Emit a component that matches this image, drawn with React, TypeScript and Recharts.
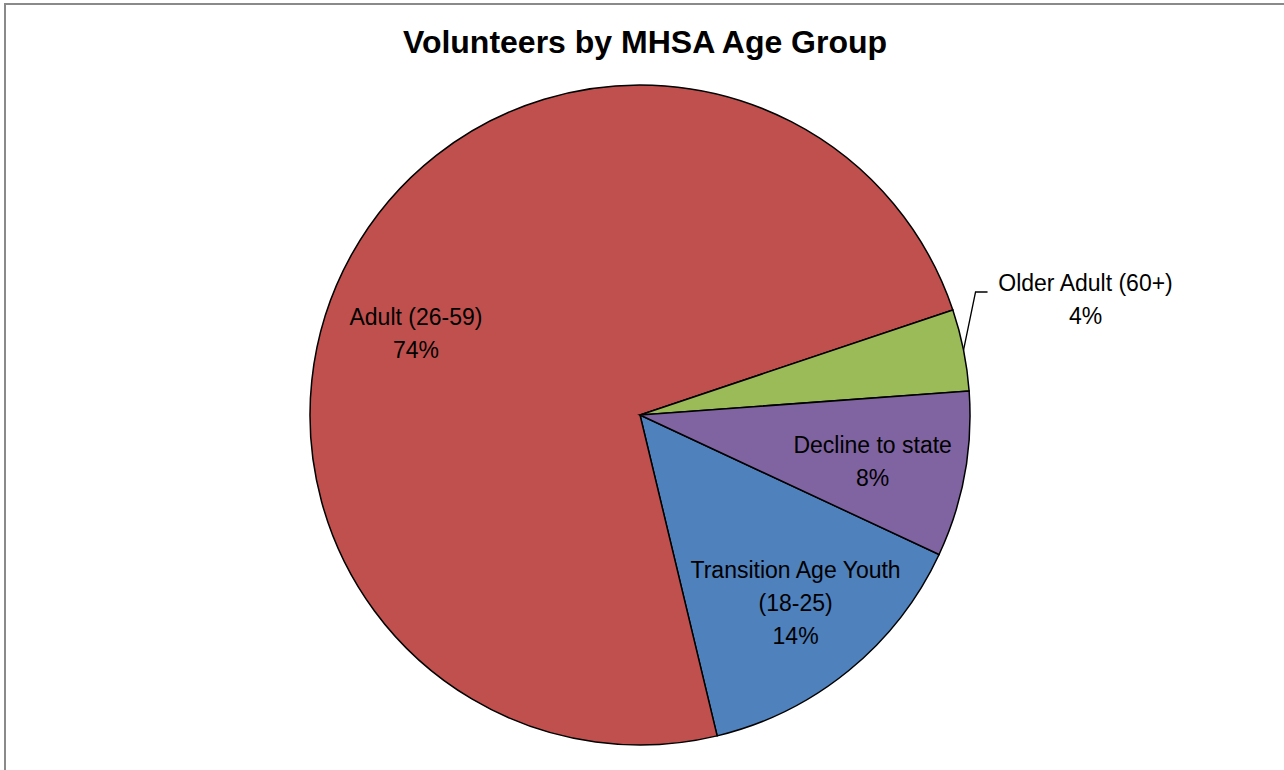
import { PieChart, Pie, Cell } from 'recharts';

const CATEGORIAS = ['Transition Age Youth (18-25)', 'Adult (26-59)', 'Older Adult (60+)', 'Decline to state'];
const VALORES = [14.3, 73.6, 4.0, 8.1];
const COLORES = ['#4F81BD', '#C0504D', '#9BBB59', '#8064A2'];

// lineas de cada etiqueta (el % se agrega aparte)
const ETIQUETAS = [['Transition Age Youth', '(18-25)'], ['Adult (26-59)'], ['Older Adult (60+)'], ['Decline to state']];

const datos = CATEGORIAS.map((nombre, i) => ({ nombre, valor: VALORES[i] }));

const RAD = Math.PI / 180;
const FUENTE = '"Liberation Sans", Arial, sans-serif';
// ajustes de posicion de etiquetas internas: [factor de radio, giro en grados]
const AJUSTES: Record<number, [number, number]> = { 0: [0.745, 0], 1: [0.72, 9.5], 3: [0.72, -1.3] };

function Etiqueta(props: any) {
  const { cx, cy, midAngle, outerRadius, percent, index } = props;
  const lineas = [...ETIQUETAS[index], `${Math.round(percent * 100)}%`];
  const alto = 33;

  if (index === 2) {
    // etiqueta externa con linea guia
    const x0 = cx + outerRadius * Math.cos(-midAngle * RAD);
    const y0 = cy + outerRadius * Math.sin(-midAngle * RAD);
    const x1 = x0 + 12;
    const y1 = y0 - 58;
    return (
      <g>
        <polyline points={`${x0},${y0} ${x1},${y1} ${x1 + 12},${y1}`} fill="none" stroke="#000" strokeWidth={1.3} />
        {lineas.map((t, i) => (
          <text key={i} x={x1 + 110} y={y1 - 7 + i * alto} textAnchor="middle" dominantBaseline="middle"
            fontFamily={FUENTE} fontSize={23} fill="#000">{t}</text>
        ))}
      </g>
    );
  }

  const [f, giro] = AJUSTES[index];
  const r = outerRadius * f;
  const ang = (midAngle + giro) * RAD;
  const x = cx + r * Math.cos(-ang);
  const y = cy + r * Math.sin(-ang);
  const y0 = y - ((lineas.length - 1) * alto) / 2;
  return (
    <g>
      {lineas.map((t, i) => (
        <text key={i} x={x} y={y0 + i * alto} textAnchor="middle" dominantBaseline="middle"
          fontFamily={FUENTE} fontSize={23} fill="#000">{t}</text>
      ))}
    </g>
  );
}

export default function App() {
  return (
    <div style={{ position: 'absolute', left: 0, top: 0, width: 1284, height: 770, overflow: 'hidden', background: '#fff' }}>
      <div style={{ position: 'absolute', left: 4, top: 3, width: 1300, height: 800, border: '2px solid #8a8a8a' }} />
      <div style={{ position: 'absolute', left: 0, top: 0 }}>
        <PieChart width={1284} height={770} margin={{ top: 0, right: 0, bottom: 0, left: 0 }}>
          <text x={645} y={45} textAnchor="middle" dominantBaseline="middle" fontFamily={FUENTE}
            fontWeight="bold" fontSize={32} fill="#000">Volunteers by MHSA Age Group</text>
          <Pie
            data={datos}
            dataKey="valor"
            nameKey="nombre"
            cx={640}
            cy={415}
            outerRadius={330}
            startAngle={-25}
            endAngle={-385}
            label={Etiqueta}
            labelLine={false}
            isAnimationActive={false}
          >
            {datos.map((_, i) => (
              <Cell key={i} fill={COLORES[i]} stroke="#000" strokeWidth={1.5} />
            ))}
          </Pie>
        </PieChart>
      </div>
    </div>
  );
}
